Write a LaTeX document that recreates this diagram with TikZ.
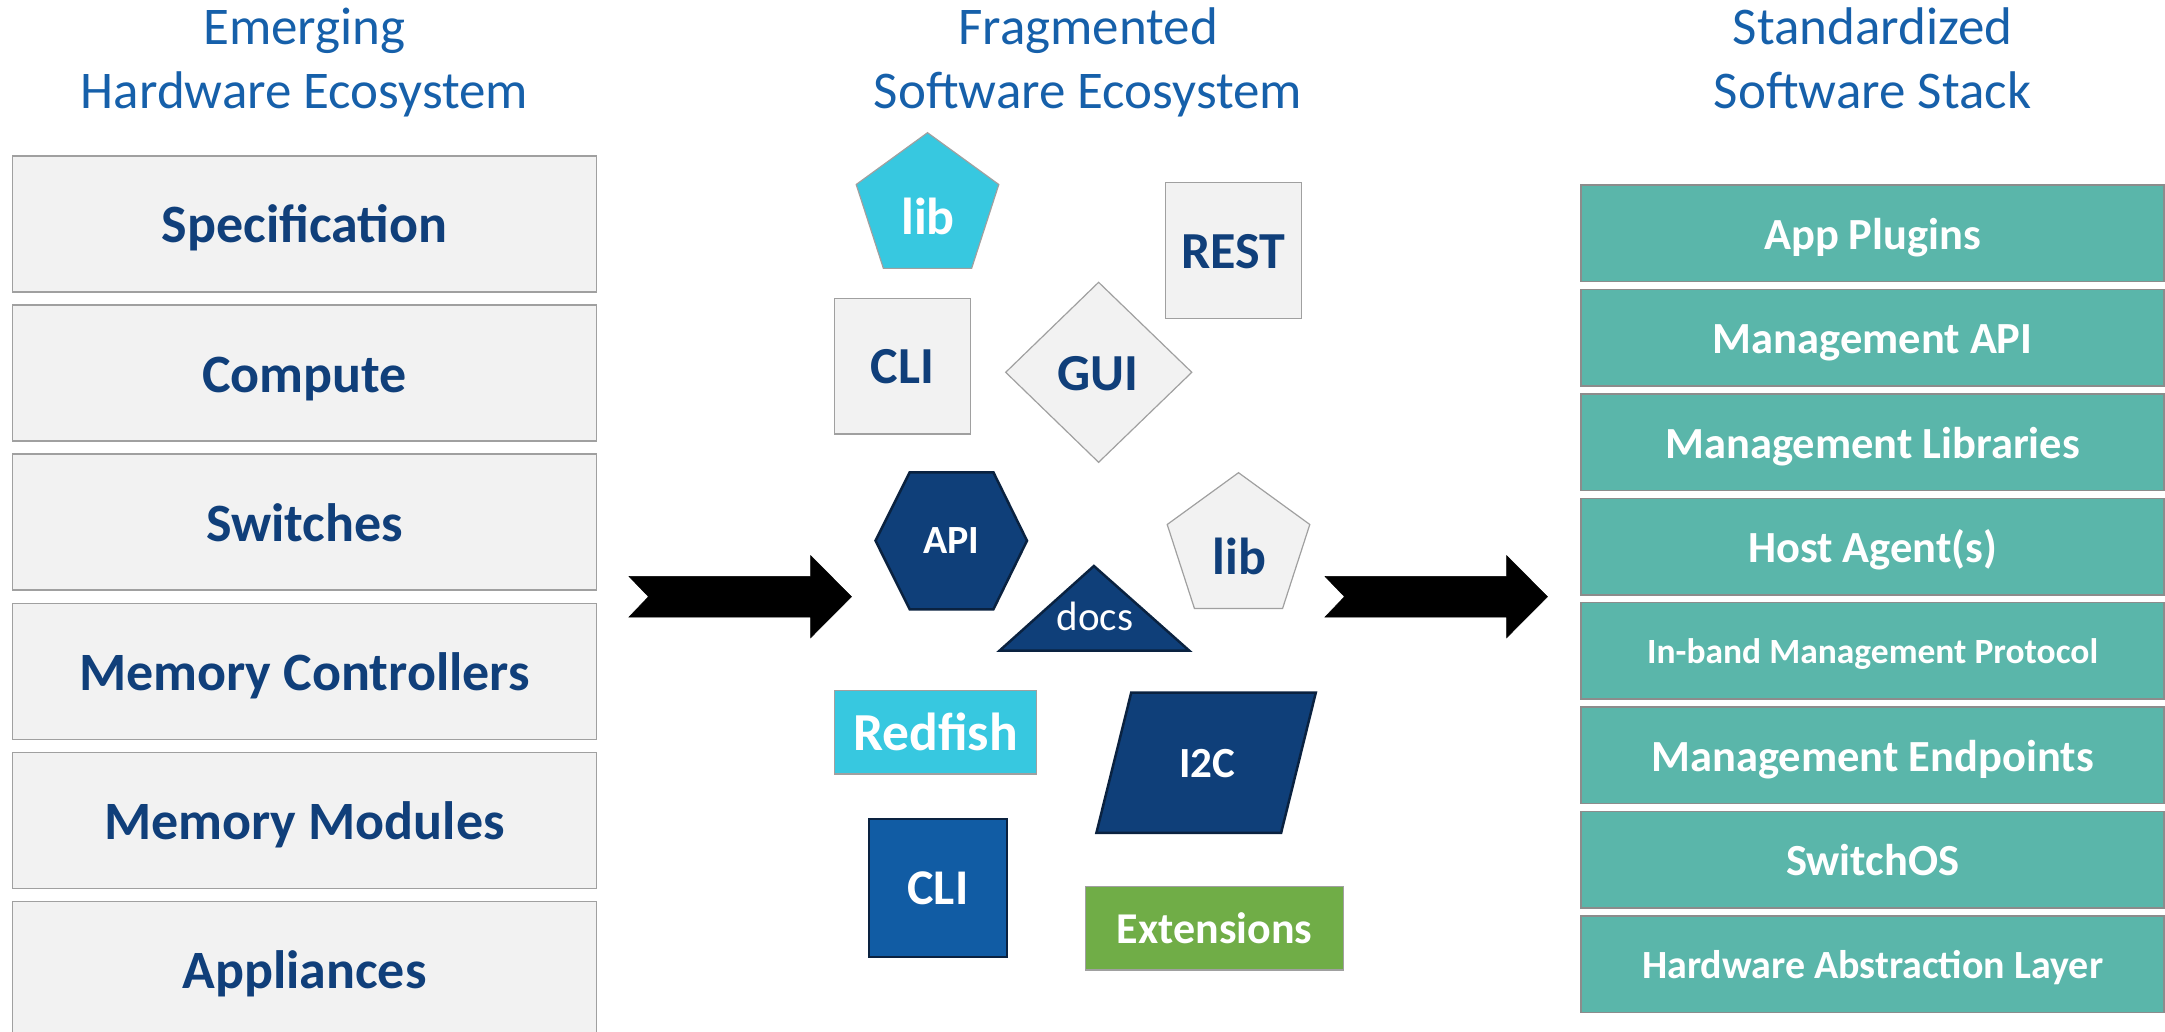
\documentclass[tikz,border=0pt]{standalone}
\usepackage{fontspec}
\setmainfont{Carlito}
\usetikzlibrary{shapes.geometric}
\definecolor{titleblue}{RGB}{22,96,170}
\definecolor{navytext}{RGB}{16,63,122}
\definecolor{boxgray}{RGB}{242,242,242}
\definecolor{edgegray}{RGB}{160,160,160}
\definecolor{cyanfill}{RGB}{55,200,224}
\definecolor{navyfill}{RGB}{15,63,121}
\definecolor{navyedge}{RGB}{10,34,64}
\definecolor{midblue}{RGB}{17,92,164}
\definecolor{greenfill}{RGB}{112,173,71}
\definecolor{tealfill}{RGB}{90,182,170}
\definecolor{tealedge}{RGB}{140,140,140}
\newcommand{\setfs}[1]{\fontsize{#1}{#1}\selectfont}
\begin{document}
\begin{tikzpicture}[x=1pt,y=-1pt,
  hwbox/.style={draw=edgegray, line width=1.5pt, fill=boxgray, minimum width=584.4pt, minimum height=136pt, inner sep=0pt, text=navytext, font=\setfs{54}\bfseries, text height=38pt, text depth=0pt},
  stackbox/.style={draw=tealedge, line width=1.5pt, fill=tealfill, minimum width=582.8pt, minimum height=96.5pt, inner sep=0pt, text=white, font=\setfs{44.5}\bfseries, text height=32pt, text depth=0pt},
  ttl/.style={text=titleblue, font=\setfs{53}, anchor=base, inner sep=0pt},
  lightshape/.style={draw=edgegray, line width=1.2pt, fill=boxgray},
  cyanshape/.style={draw=edgegray, line width=1.2pt, fill=cyanfill},
  navyshape/.style={draw=navyedge, line width=2.5pt, fill=navyfill},
  biglbl/.style={font=\setfs{52}\bfseries, inner sep=0pt, anchor=base},
  blockarrow/.style={fill=black, draw=black, line width=0.5pt}
]
\useasboundingbox (0,0) rectangle (2165,1032);
\clip (0,0) rectangle (2165,1032);

% ---------- titles ----------
\node[ttl] (t1a) at (304.5,45) {Emerging};
\node[ttl] (t1b) at (304.5,108.3) {Hardware Ecosystem};
\node[ttl] (t2a) at (1088,45) {Fragmented};
\node[ttl] (t2b) at (1088,108.3) {Software Ecosystem};
\node[ttl] (t3a) at (1872.5,45) {Standardized};
\node[ttl] (t3b) at (1872.5,108.3) {Software Stack};

% ---------- left column ----------
\node[hwbox] (hw1) at (304.5,224.0) {Specification};
\node[hwbox] (hw2) at (304.5,373.1) {Compute};
\node[hwbox] (hw3) at (304.5,522.2) {Switches};
\node[hwbox] (hw4) at (304.5,671.4) {Memory Controllers};
\node[hwbox] (hw5) at (304.5,820.5) {Memory Modules};
\node[hwbox] (hw6) at (304.5,969.6) {Appliances};

% ---------- right column ----------
\node[stackbox] (st1) at (1872.6,233.3) {App Plugins};
\node[stackbox] (st2) at (1872.6,337.7) {Management API};
\node[stackbox] (st3) at (1872.6,442.1) {Management Libraries};
\node[stackbox] (st4) at (1872.6,546.5) {Host Agent(s)};
\node[stackbox, font=\setfs{35.5}\bfseries, text height=25pt] (st5) at (1872.6,650.9) {In-band Management Protocol};
\node[stackbox] (st6) at (1872.6,755.3) {Management Endpoints};
\node[stackbox] (st7) at (1872.6,859.7) {SwitchOS};
\node[stackbox, font=\setfs{40}\bfseries, text height=29pt] (st8) at (1872.6,964.1) {Hardware Abstraction Layer};

% ---------- middle: fragmented shapes ----------
% cyan pentagon lib
\draw[cyanshape] (927.5,132.7) -- (998.8,184.5) -- (971.6,268.4) -- (883.4,268.4) -- (856.2,184.5) -- cycle;
\node[biglbl, text=white] (lib1) at (928,234.3) {lib};

% REST square
\node[lightshape, minimum width=136.4pt, minimum height=136pt, inner sep=0pt, text=navytext, font=\setfs{52}\bfseries, text height=35.5pt, text depth=0pt] (rest) at (1233.6,250.3) {REST};

% light CLI square
\node[lightshape, minimum width=136pt, minimum height=135.7pt, inner sep=0pt, text=navytext, font=\setfs{52}\bfseries, text height=35.5pt, text depth=0pt] (cli1) at (902.4,366.2) {CLI};

% GUI diamond
\draw[lightshape] (1098.6,282.3) -- (1191.8,372.3) -- (1098.6,462.3) -- (1005.7,372.3) -- cycle;
\node[biglbl, text=navytext] (gui) at (1098,390) {GUI};

% API hexagon
\draw[navyshape] (909.7,472.3) -- (993.4,472.3) -- (1027,540.7) -- (993.4,609.3) -- (909.7,609.3) -- (875.5,540.7) -- cycle;
\node[font=\setfs{40}\bfseries, text=white, inner sep=0pt, anchor=base] (api) at (951.3,553.3) {API};

% light lib pentagon
\draw[lightshape] (1238.5,472.7) -- (1309.8,524.5) -- (1282.6,608.4) -- (1194.4,608.4) -- (1167.2,524.5) -- cycle;
\node[biglbl, text=navytext] (lib2) at (1239.3,574.3) {lib};

% docs triangle
\draw[navyshape] (1093.9,566) -- (1189.3,650.7) -- (999.5,650.7) -- cycle;
\node[font=\setfs{41}, text=white, inner sep=0pt, anchor=base] (docs) at (1094.9,630) {docs};

% Redfish
\node[cyanshape, minimum width=202.5pt, minimum height=83.3pt, inner sep=0pt, text=white, font=\setfs{53.5}\bfseries, text height=36pt, text depth=0pt] (redfish) at (935.4,732.4) {Redfish};

% I2C parallelogram
\draw[navyshape] (1131.2,692.7) -- (1315.8,692.7) -- (1281.1,832.9) -- (1096.4,832.9) -- cycle;
\node[font=\setfs{43}\bfseries, text=white, inner sep=0pt, anchor=base] (i2c) at (1207.1,777.5) {I2C};

% dark CLI square
\node[draw=navyedge, line width=2.5pt, fill=midblue, minimum width=138pt, minimum height=137.7pt, inner sep=0pt, text=white, font=\setfs{50}\bfseries, text height=33pt, text depth=0pt] (cli2) at (937.9,887.9) {CLI};

% Extensions
\node[draw=edgegray, line width=1.2pt, fill=greenfill, minimum width=258.3pt, minimum height=83.3pt, inner sep=0pt, text=white, font=\setfs{44}\bfseries, text height=30pt, text depth=0pt] (ext) at (1214.5,928.3) {Extensions};

% ---------- block arrows ----------
\draw[blockarrow] (629,576.4) -- (810.7,576.4) -- (810.7,555.7) -- (851.5,596.7) -- (810.7,637.7) -- (810.7,617) -- (629,617) -- (648.5,596.7) -- cycle;
\draw[blockarrow] (1325,576.4) -- (1506.7,576.4) -- (1506.7,555.7) -- (1547.5,596.7) -- (1506.7,637.7) -- (1506.7,617) -- (1325,617) -- (1344.5,596.7) -- cycle;
\end{tikzpicture}
\end{document}
